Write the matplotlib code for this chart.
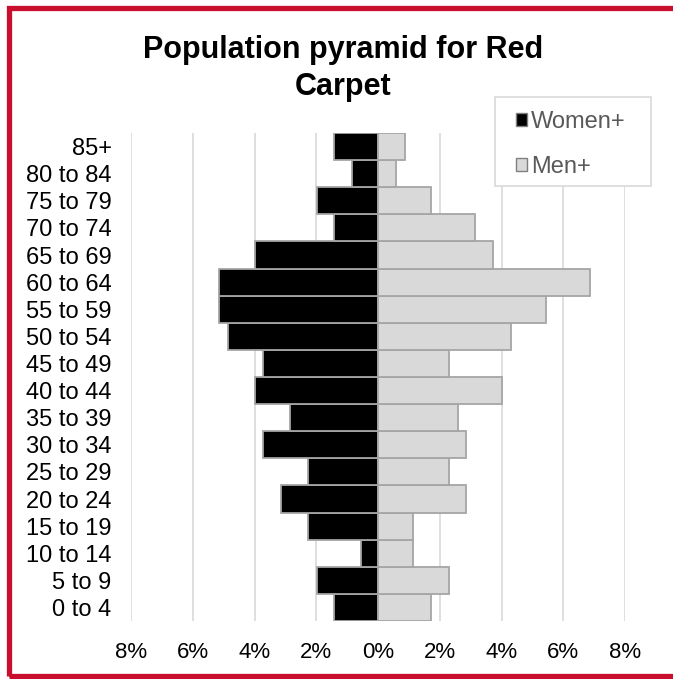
import matplotlib.pyplot as plt
from matplotlib.patches import Patch, Rectangle
import numpy as np

plt.rcParams['font.family'] = ['Liberation Sans', 'DejaVu Sans']

# Age groups, bottom to top
ages = ['0 to 4', '5 to 9', '10 to 14', '15 to 19', '20 to 24', '25 to 29',
        '30 to 34', '35 to 39', '40 to 44', '45 to 49', '50 to 54', '55 to 59',
        '60 to 64', '65 to 69', '70 to 74', '75 to 79', '80 to 84', '85+']

# Percent of population
women = [1.43, 1.98, 0.55, 2.27, 3.15, 2.27, 3.73, 2.86, 4.0, 3.73, 4.87, 5.16,
         5.16, 4.0, 1.43, 1.98, 0.84, 1.43]
men = [1.72, 2.3, 1.14, 1.14, 2.86, 2.3, 2.86, 2.6, 4.03, 2.3, 4.32, 5.45,
       6.88, 3.73, 3.15, 1.72, 0.58, 0.88]

xticks = [-8, -6, -4, -2, 0, 2, 4, 6, 8]

fig = plt.figure(figsize=(6.73, 6.79), dpi=100)
ax = fig.add_axes([0.1947, 0.0854, 0.734, 0.7187])

y = np.arange(len(ages))
ax.barh(y, -np.array(women), height=1.0, color='black', edgecolor='#A5A5A5',
        linewidth=1.3, label='Women+', zorder=3)
ax.barh(y, men, height=1.0, color='#D9D9D9', edgecolor='#A5A5A5',
        linewidth=1.3, label='Men+', zorder=3)

ax.set_xlim(-8, 8)
ax.set_ylim(-0.5, len(ages) - 0.5)
ax.set_xticks(xticks)
ax.set_xticklabels([f'{abs(v)}%' for v in xticks], fontsize=16)
ax.set_yticks(y)
ax.set_yticklabels(ages, fontsize=17)
ax.tick_params(axis='x', length=0, pad=15)
ax.tick_params(axis='y', length=0, pad=14)
ax.grid(axis='x', color='#D9D9D9', linewidth=1.2, zorder=0)
for s in ax.spines.values():
    s.set_visible(False)

fig.text(0.51, 0.899, 'Population pyramid for Red\nCarpet', ha='center',
         va='center', fontsize=22, fontweight='bold', linespacing=1.3)

# legend box drawn separately so padding can differ in x and y
fig.patches.append(Rectangle((495 / 673, 1 - 186 / 679), 156 / 673, 89 / 679,
                             transform=fig.transFigure, facecolor='white',
                             edgecolor='#D9D9D9', linewidth=1.2, zorder=4))
handles = [Patch(facecolor='black', edgecolor='#7F7F7F', label='Women+'),
           Patch(facecolor='#D9D9D9', edgecolor='#7F7F7F', label='Men+')]
leg = fig.legend(handles=handles, loc='upper left',
                 bbox_to_anchor=(516 / 673, 1 - 111 / 679), fontsize=17,
                 frameon=False, handlelength=0.45, handleheight=0.45,
                 handletextpad=0.2, labelspacing=0.97, borderpad=0,
                 borderaxespad=0)
leg.set_zorder(5)
for t in leg.get_texts():
    t.set_color('#595959')

# red frame around the chart (right edge is cropped)
fig.patches.append(Rectangle((8.5 / 673, 3 / 679), 1.1, 1 - 11 / 679,
                             transform=fig.transFigure, fill=False,
                             edgecolor='#C8102E', linewidth=3.8, clip_on=False))

fig.savefig('out.png', dpi=100)
